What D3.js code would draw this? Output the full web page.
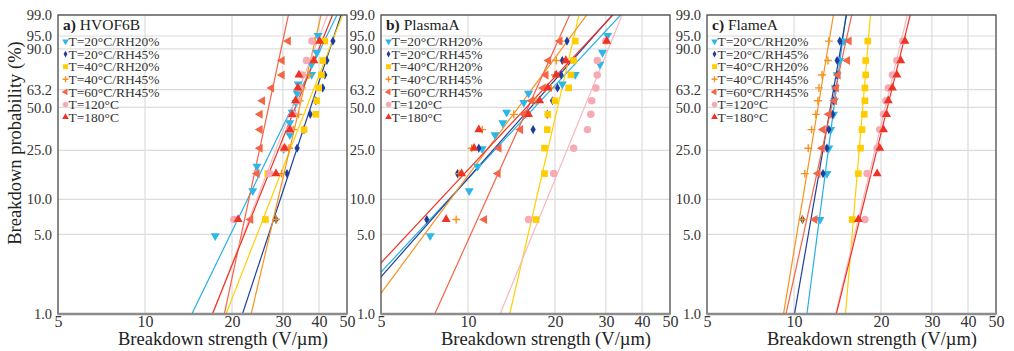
<!DOCTYPE html>
<meta charset="utf-8">
<style>
  html, body { margin:0; padding:0; background:#fff; }
  svg { display:block; }
  svg text { font-family:"Liberation Serif","Times New Roman",serif; }
</style>
<svg width="1014" height="351"></svg>
<script src="https://d3js.org/d3.v7.min.js"></script>
<script>

// ---- data ----
var panelNames = ["HVOF6B", "PlasmaA", "FlameA"],
    panelLetters = ["a)", "b)", "c)"],
    seriesNames = ["T=20°C/RH20%", "T=20°C/RH45%", "T=40°C/RH20%", "T=40°C/RH45%", "T=60°C/RH45%", "T=120°C", "T=180°C"],
    probTicks = [1.0, 5.0, 10.0, 25.0, 50.0, 63.2, 90.0, 95.0, 99.0],
    strengthTicks = [5, 10, 20, 30, 40, 50];

// breakdown strengths (V/µm), one list per series, in legend order
var hvof6b = [
  [17.5, 23.6, 24.4, 30.2, 31.7, 31.7, 32.3, 33.3, 33.6, 33.9, 37.7, 37.7, 39.3, 39.7],
  [28.4, 31.0, 33.6, 35.5, 37.3, 39.0, 41.2, 41.9, 42.6, 44.7],
  [26.1, 26.6, 30.2, 35.5, 39.0, 39.3, 39.9, 40.8, 41.2, 41.9],
  [28.4, 29.7, 31.5, 32.6, 34.0, 34.3, 34.9, 36.9, 38.1, 38.7],
  [23.2, 24.4, 25.0, 25.0, 25.0, 25.5, 27.4, 29.8, 29.8, 31.3],
  [20.3, 27.0, 30.2, 31.7, 32.6, 33.6, 34.3, 35.0, 36.2, 37.8],
  [21.0, 28.4, 30.4, 31.7, 32.3, 33.2, 33.8, 34.1, 38.4, 40.2]
];
var plasmaA = [
  [7.4, 10.1, 10.8, 11.2, 12.4, 13.2, 13.6, 15.6, 16.2, 21.2, 23.5, 28.6, 29.2, 30.4],
  [7.2, 9.2, 10.9, 16.8, 18.8, 19.6, 20.4, 21.0, 21.2, 22.0],
  [17.2, 18.4, 18.4, 18.8, 18.9, 20.0, 22.3, 22.7, 23.2, 23.5],
  [9.1, 9.3, 10.3, 11.2, 14.4, 17.2, 19.4, 20.0, 20.2, 20.8],
  [11.4, 12.7, 12.8, 15.2, 15.6, 16.6, 18.2, 18.6, 19.0, 20.8],
  [16.2, 19.8, 23.2, 25.9, 26.6, 26.8, 27.7, 28.0, 28.0, 30.0],
  [8.4, 9.5, 10.5, 10.9, 16.2, 17.7, 18.9, 20.2, 21.8, 30.2]
];
var flameA = [
  [12.3, 13.0, 13.2, 13.4, 13.7, 13.8, 13.9, 14.1, 14.4, 14.9],
  [10.7, 12.6, 13.0, 13.2, 13.6, 13.7, 13.8, 14.1, 14.1, 14.4],
  [15.9, 16.7, 17.0, 17.2, 17.5, 17.6, 17.6, 17.7, 17.7, 18.0],
  [10.7, 10.9, 11.2, 11.5, 11.9, 12.1, 12.2, 12.5, 13.1, 13.2],
  [11.8, 12.1, 12.5, 12.6, 13.2, 13.8, 14.0, 14.2, 15.3, 15.5],
  [17.6, 17.9, 19.4, 19.8, 20.4, 20.8, 21.2, 21.9, 22.7, 23.8],
  [16.7, 19.4, 19.8, 20.4, 20.9, 21.2, 21.9, 22.7, 23.4, 24.2]
];

// Weibull fits [scale alpha (V/µm), shape beta]
var hvof6bFit = [[34.6, 5.3], [39.2, 7.8], [38.3, 6.6], [35.4, 11], [27.6, 12], [34.1, 6.7], [35.1, 6.4]];
var plasmaAFit = [[19.4, 2.76], [18.7, 2.91], [21.1, 11.1], [16.6, 3.48], [17.2, 5.7], [26.8, 6.3], [18.2, 2.75]];
var flameAFit = [[14.0, 19.7], [13.7, 14.8], [17.5, 30.8], [12.4, 15.4], [13.9, 11.7], [21.4, 10.7], [21.8, 10.4]];

var panelData = [hvof6b, plasmaA, flameA],
    panelFits = [hvof6bFit, plasmaAFit, flameAFit];

// ---- styles ----
var markerColors = ["#2fb6e9", "#1f3d9a", "#ffcc00", "#f7921e", "#f26546", "#f5aab4", "#ee3224"],
    lineColors   = ["#29aee6", "#1f3d9a", "#ffd000", "#f7921e", "#f26546", "#f7b8c0", "#ee3224"];

var svg = d3.select("svg"),
    serif = "Liberation Serif, Times New Roman, serif",
    panelX = [58, 381, 707],
    plotW = 289,
    plotTop = 15,
    plotBottom = 314;

function wb(p) { return Math.log(-Math.log(1 - p / 100)); }

var y = d3.scaleLinear().domain([wb(1), wb(99)]).range([plotBottom, plotTop]);

function marker(sel, k, size) {
  var s = size;
  if (k === 3) {
    var h = Math.sqrt(s) * 0.6;
    sel.append("path")
        .attr("d", "M" + (-h) + ",0H" + h + "M0," + (-h) + "V" + h)
        .attr("stroke", markerColors[k]).attr("stroke-width", 1.4).attr("fill", "none");
    return;
  }
  var type = [d3.symbolTriangle, d3.symbolDiamond, d3.symbolSquare, null, d3.symbolTriangle, d3.symbolCircle, d3.symbolTriangle][k],
      rot = [180, 0, 0, 0, -90, 0, 0][k],
      sz = [s * 0.8, s * 0.55, s, s, s * 0.8, s, s * 0.8][k];
  sel.append("path")
      .attr("d", d3.symbol().type(type).size(sz)())
      .attr("transform", "rotate(" + rot + ")")
      .attr("fill", markerColors[k]);
}

panelNames.forEach(function(name, pi) {
  var x0 = panelX[pi],
      x = d3.scaleLog().domain([5, 50]).range([x0, x0 + plotW]),
      g = svg.append("g");

  // grid
  g.append("g").selectAll("line").data(probTicks).join("line")
      .attr("x1", x0).attr("x2", x0 + plotW)
      .attr("y1", function(d) { return y(wb(d)); }).attr("y2", function(d) { return y(wb(d)); })
      .attr("stroke", "#dcdcdc").attr("stroke-width", 1.2);
  g.append("g").selectAll("line").data(strengthTicks.slice(1, -1)).join("line")
      .attr("x1", function(d) { return x(d); }).attr("x2", function(d) { return x(d); })
      .attr("y1", plotTop).attr("y2", plotBottom)
      .attr("stroke", "#dcdcdc").attr("stroke-width", 1.2);

  // axes labels
  var yAxis = g.append("g")
      .attr("transform", "translate(" + x0 + ",0)")
      .call(d3.axisLeft(y).tickValues(probTicks.map(wb)).tickSize(0).tickPadding(6)
        .tickFormat(function(d, i) { return d3.format(".1f")(probTicks[i]); }));
  yAxis.attr("font-family", serif);
  yAxis.select(".domain").remove();
  yAxis.selectAll("text").attr("font-size", 14.5).attr("fill", "#333");

  var xAxis = g.append("g")
      .attr("transform", "translate(0," + plotBottom + ")")
      .call(d3.axisBottom(x).tickValues(strengthTicks).tickSize(0).tickPadding(2).tickFormat(d3.format("d")));
  xAxis.attr("font-family", serif);
  xAxis.select(".domain").remove();
  xAxis.selectAll("text").attr("font-size", 16).attr("fill", "#333");

  // clip
  var clipId = "clip" + pi;
  svg.append("clipPath").attr("id", clipId).append("rect")
      .attr("x", x0).attr("y", plotTop).attr("width", plotW).attr("height", plotBottom - plotTop);

  // fit lines
  var line = d3.line()
      .x(function(d) { return x(d.v); })
      .y(function(d) { return y(wb(d.p)); });
  g.append("g").attr("clip-path", "url(#" + clipId + ")")
    .selectAll("path").data(panelFits[pi]).join("path")
      .attr("d", function(f) {
        return line([0.5, 99.5].map(function(p) {
          return { p: p, v: f[0] * Math.pow(-Math.log(1 - p / 100), 1 / f[1]) };
        }));
      })
      .attr("fill", "none")
      .attr("stroke", function(f, i) { return lineColors[i]; })
      .attr("stroke-width", 1.2);

  // points (Bernard median ranks)
  var pts = g.append("g").attr("clip-path", "url(#" + clipId + ")");
  panelData[pi].forEach(function(vals, k) {
    var n = vals.length;
    vals.forEach(function(v, i) {
      var p = (i + 1 - 0.3) / (n + 0.4) * 100;
      var m = pts.append("g").attr("transform", "translate(" + x(v) + "," + y(wb(p)) + ")");
      marker(m, k, 44);
    });
  });

  // frame
  g.append("rect")
      .attr("x", x0).attr("y", plotTop).attr("width", plotW).attr("height", plotBottom - plotTop)
      .attr("fill", "none").attr("stroke", "#4a4a4a").attr("stroke-width", 1.3);
  g.append("line")
      .attr("x1", x0).attr("x2", x0 + plotW).attr("y1", plotBottom).attr("y2", plotBottom)
      .attr("stroke", "#8c8c8c").attr("stroke-width", 2.5);

  // legend
  var lg = g.append("g");
  var title = lg.append("text").attr("x", x0 + 5).attr("y", 30)
      .attr("font-family", serif).attr("font-size", 15.5).attr("fill", "#222");
  title.append("tspan").attr("font-weight", "bold").text(panelLetters[pi]);
  title.append("tspan").text(" " + name);
  seriesNames.forEach(function(s, k) {
    var cy = 41.5 + k * 12.6;
    marker(lg.append("g").attr("transform", "translate(" + (x0 + 7.5) + "," + cy + ")"), k, 24);
    lg.append("text").attr("x", x0 + 10.5).attr("y", cy + 4.6)
        .attr("font-family", serif).attr("font-size", 13.5).attr("fill", "#333").text(s);
  });

  // axis titles
  g.append("text")
      .attr("x", x0 + 165).attr("y", 345)
      .attr("text-anchor", "middle").attr("font-family", serif).attr("font-size", 18.5).attr("fill", "#222")
      .text("Breakdown strength (V/µm)");
});

svg.append("text")
    .attr("transform", "translate(21,143) rotate(-90)")
    .attr("text-anchor", "middle").attr("font-family", serif).attr("font-size", 18.5).attr("fill", "#222")
    .text("Breakdown probability (%)");

</script>
